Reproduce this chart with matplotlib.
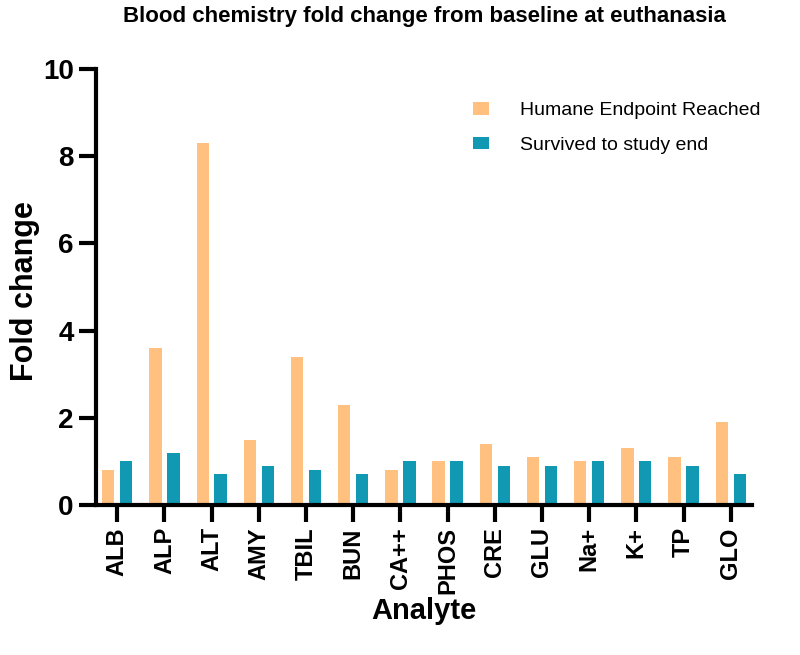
import numpy as np
import matplotlib.pyplot as plt

plt.rcParams['font.family'] = ['Liberation Sans', 'DejaVu Sans']

analytes = ['ALB', 'ALP', 'ALT', 'AMY', 'TBIL', 'BUN', 'CA++', 'PHOS', 'CRE', 'GLU', 'Na+', 'K+', 'TP', 'GLO']
humane = [0.8, 3.6, 8.3, 1.5, 3.4, 2.3, 0.8, 1.0, 1.4, 1.1, 1.0, 1.3, 1.1, 1.9]
survived = [1.0, 1.2, 0.7, 0.9, 0.8, 0.7, 1.0, 1.0, 0.9, 0.9, 1.0, 1.0, 0.9, 0.7]

fig = plt.figure(figsize=(8, 6.55), dpi=100)
ax = fig.add_axes([0.12, 0.229, 0.82, 0.666])

x = np.arange(len(analytes))
w = 0.26
ax.bar(x - 0.19, humane, w, color='#FFC080', label='Humane Endpoint Reached')
ax.bar(x + 0.19, survived, w, color='#1199B4', label='Survived to study end')

ax.set_xlim(-0.45, len(analytes) - 0.55)
ax.set_ylim(0, 10)
ax.set_yticks([0, 2, 4, 6, 8, 10])
ax.set_xticks(x)
ax.set_xticklabels(analytes, rotation=90, fontsize=17, fontweight='bold')
for lbl in ax.get_yticklabels():
    lbl.set_fontsize(20)
    lbl.set_fontweight('bold')

for side in ['top', 'right']:
    ax.spines[side].set_visible(False)
for side in ['left', 'bottom']:
    ax.spines[side].set_linewidth(3)
ax.tick_params(axis='both', width=3, length=12, direction='out', pad=4)

ax.set_ylabel('Fold change', fontsize=22, fontweight='bold', va='center')
ax.yaxis.set_label_coords(-0.108, 0.49)
ax.set_xlabel('Analyte', fontsize=21, fontweight='bold', va='center')
ax.xaxis.set_label_coords(0.5, -0.242)
ax.set_title('Blood chemistry fold change from baseline at euthanasia',
             fontsize=16, fontweight='bold', pad=34)

ax.legend(loc='upper left', bbox_to_anchor=(0.548, 0.963), frameon=False,
          fontsize=14, handlelength=0.8, handleheight=0.6, handletextpad=1.6,
          labelspacing=0.9)

plt.savefig('out.png', dpi=100)
